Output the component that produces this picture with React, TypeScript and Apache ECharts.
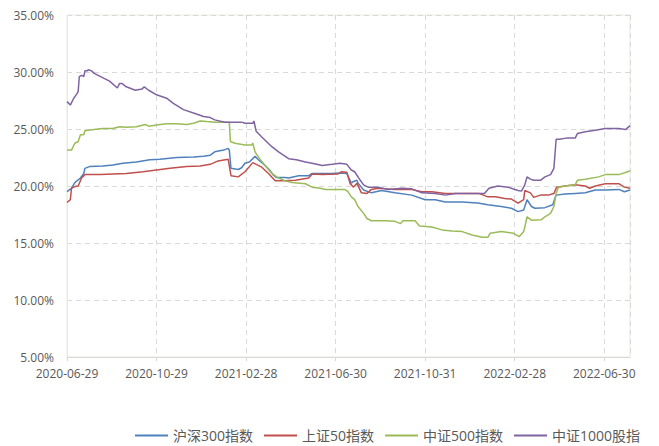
import React, { useEffect, useRef } from "react";
import * as echarts from "echarts";

// x values are trading-day indices from 2020-06-29; tick labels every 80 trading days
const tickLabels = ["2020-06-29", "2020-10-29", "2021-02-28", "2021-06-30", "2021-10-31", "2022-02-28", "2022-06-30"];
const seriesNames = ["沪深300指数", "上证50指数", "中证500指数", "中证1000股指"];

const hs300 = [[0,19.5],[4,19.8],[7,20.3],[12,20.7],[15,21.1],[16,21.55],[20,21.7],[32,21.75],[41,21.85],[50,22.0],[62,22.1],[74,22.3],[83,22.35],[98,22.5],[113,22.55],[122,22.6],[128,22.7],[132,23.0],[140,23.15],[144,23.3],[145,23.15],[146.5,21.55],[153,21.45],[156,21.6],[159,22.0],[163,22.1],[168,22.6],[171,22.3],[177,21.8],[181,21.4],[184,21.0],[187,20.75],[195,20.75],[198,20.7],[207,20.9],[216,20.9],[219,21.1],[236,21.1],[245,21.15],[250,21.1],[254,20.25],[256,20.4],[259,20.5],[260,20.25],[265,19.65],[272,19.4],[281,19.6],[293,19.4],[308,19.2],[320,18.8],[329,18.8],[338,18.6],[353,18.6],[367,18.5],[376,18.35],[388,18.2],[397,18.05],[403,17.75],[408,17.9],[411,18.8],[415,18.2],[418,18.05],[427,18.1],[434,18.35],[437,19.2],[445,19.3],[454,19.35],[463,19.4],[472,19.65],[481,19.65],[493,19.7],[498,19.5],[503,19.65]];

const sz50 = [[0,18.55],[3,18.8],[4,19.8],[7,19.95],[10,20.0],[13,20.7],[16,21.0],[30,21.0],[41,21.05],[53,21.1],[68,21.25],[80,21.4],[92,21.55],[107,21.7],[119,21.75],[128,21.9],[135,22.2],[144,22.35],[146.5,20.9],[153,20.8],[159,21.25],[166,22.05],[174,21.65],[180,21.1],[186,20.45],[195,20.45],[204,20.5],[216,20.7],[219,21.05],[228,21.0],[242,21.05],[245,21.25],[250,21.2],[253,20.2],[256,19.9],[259,20.25],[263,19.4],[268,19.35],[272,19.7],[278,19.8],[293,19.7],[308,19.7],[317,19.5],[326,19.5],[338,19.35],[353,19.35],[368,19.35],[376,19.05],[383,19.05],[391,18.9],[397,18.85],[403,18.5],[408,18.8],[409,19.6],[414,19.4],[417,19.0],[423,19.2],[430,19.2],[435,19.35],[437.5,19.9],[445,20.0],[454,20.1],[463,20.0],[467,19.8],[472,20.0],[481,20.2],[493,20.2],[498,19.9],[503,19.8]];

const zz500 = [[0,23.15],[4,23.15],[7,23.75],[10,23.9],[12,24.5],[15,24.5],[16,24.85],[19,24.9],[24,24.95],[32,25.05],[41,25.05],[47,25.2],[53,25.15],[62,25.2],[70,25.4],[73,25.25],[80,25.35],[89,25.45],[98,25.45],[107,25.4],[113,25.5],[119,25.7],[125,25.65],[132,25.6],[145,25.6],[146,23.9],[150,23.75],[159,23.6],[165,23.6],[166,23.75],[168,23.0],[172,22.4],[177,21.8],[183,21.1],[189,20.7],[195,20.45],[201,20.3],[213,20.2],[219,19.9],[226,19.8],[231,19.7],[248,19.7],[251,19.5],[254,19.05],[257,18.8],[260,18.2],[265,17.6],[268,17.15],[272,16.95],[284,16.95],[293,16.9],[298,16.7],[300,16.95],[311,16.95],[315,16.5],[326,16.4],[335,16.15],[344,16.05],[353,16.0],[362,15.7],[371,15.5],[376,15.5],[378,15.85],[388,16.0],[399,15.85],[404,15.55],[408,16.0],[409,16.4],[411,17.3],[415,17.0],[424,17.05],[427,17.3],[432,17.6],[435,18.2],[437,19.35],[439,19.9],[445,20.0],[454,20.1],[456,20.5],[463,20.6],[475,20.8],[481,21.0],[493,21.0],[501,21.25],[503,21.35]];

const zz1000 = [[0,27.4],[3,27.1],[6,27.7],[9,28.1],[10,28.3],[11,29.6],[13,29.7],[15,29.6],[16,30.1],[18,30.1],[19,30.2],[22,30.1],[24,29.9],[30,29.6],[38,29.2],[45,28.6],[47,29.0],[49,29.0],[53,28.7],[61,28.4],[67,28.5],[69,28.7],[73,28.4],[80,28.0],[89,27.7],[95,27.25],[104,26.7],[113,26.4],[122,26.1],[128,26.0],[132,25.8],[141,25.6],[156,25.6],[159,25.5],[166,25.5],[167,25.7],[169,24.8],[174,24.3],[183,23.45],[189,23.0],[198,22.4],[205,22.3],[213,22.1],[219,22.0],[228,21.8],[237,21.9],[244,22.0],[250,21.9],[254,21.4],[257,21.25],[262,20.5],[265,20.1],[269,19.9],[278,19.9],[287,19.7],[299,19.8],[308,19.75],[317,19.4],[329,19.35],[338,19.2],[347,19.35],[362,19.35],[373,19.35],[377,19.8],[385,20.0],[394,19.9],[403,19.6],[406,19.55],[409,20.1],[411,20.8],[414,20.6],[417,20.5],[423,20.5],[427,20.8],[432,21.0],[435,21.55],[437,24.1],[440,24.1],[446,24.2],[454,24.2],[456,24.6],[463,24.75],[472,24.9],[481,25.05],[493,25.05],[499,24.95],[503,25.3]];

const seriesData = [hs300, sz50, zz500, zz1000];
const colors = ["#4F81BD", "#C0504D", "#9BBB59", "#8064A2"];
const TICK_STEP = 80;
const X_MAX = 503;

export default function App() {
  const ref = useRef<HTMLDivElement>(null);
  useEffect(() => {
    if (!ref.current) return;
    const chart = echarts.init(ref.current, null, { renderer: "svg" });
    const font = '"Open Sans", "Noto Sans CJK SC", sans-serif';
    chart.setOption({
      animation: false,
      backgroundColor: "#ffffff",
      textStyle: { fontFamily: font },
      grid: { left: 67, right: 29, top: 15, bottom: 89, show: true, borderColor: "#ebeae0", borderWidth: 1 },
      legend: {
        left: 135,
        top: 427,
        padding: 0,
        icon: "rect",
        itemWidth: 33,
        itemHeight: 2,
        itemGap: 11,
        textStyle: { fontSize: 14, lineHeight: 17, color: "#595959", fontFamily: font },
        data: seriesNames,
      },
      xAxis: {
        type: "value",
        min: 0,
        max: X_MAX,
        interval: TICK_STEP,
        axisLine: { show: true, lineStyle: { color: "#d9d9d9", width: 1 } },
        axisTick: { show: true, length: 4, lineStyle: { color: "#d9d9d9" } },
        axisLabel: {
          color: "#595959",
          fontSize: 12,
          margin: 10,
          showMaxLabel: false,
          formatter: (v: number) => (v % TICK_STEP === 0 ? tickLabels[v / TICK_STEP] || "" : ""),
        },
        splitLine: { show: true, lineStyle: { color: "#d9d9d9", type: [5, 4], width: 1 } },
      },
      yAxis: {
        type: "value",
        min: 5,
        max: 35,
        interval: 5,
        axisLine: { show: true, lineStyle: { color: "#ebeae0" } },
        axisTick: { show: false },
        axisLabel: { color: "#595959", fontSize: 12, margin: 13, formatter: (v: number) => v.toFixed(2) + "%" },
        splitLine: { show: true, lineStyle: { color: "#d9d9d9", type: [5, 4], width: 1 } },
      },
      series: seriesNames.map((name, i) => ({
        name,
        type: "line",
        data: seriesData[i],
        showSymbol: false,
        symbol: "none",
        color: colors[i],
        lineStyle: { width: 1.5, color: colors[i] },
      })),
    });
    return () => chart.dispose();
  }, []);
  return <div ref={ref} style={{ position: "fixed", left: 0, top: 0, width: 659, height: 446 }} />;
}
